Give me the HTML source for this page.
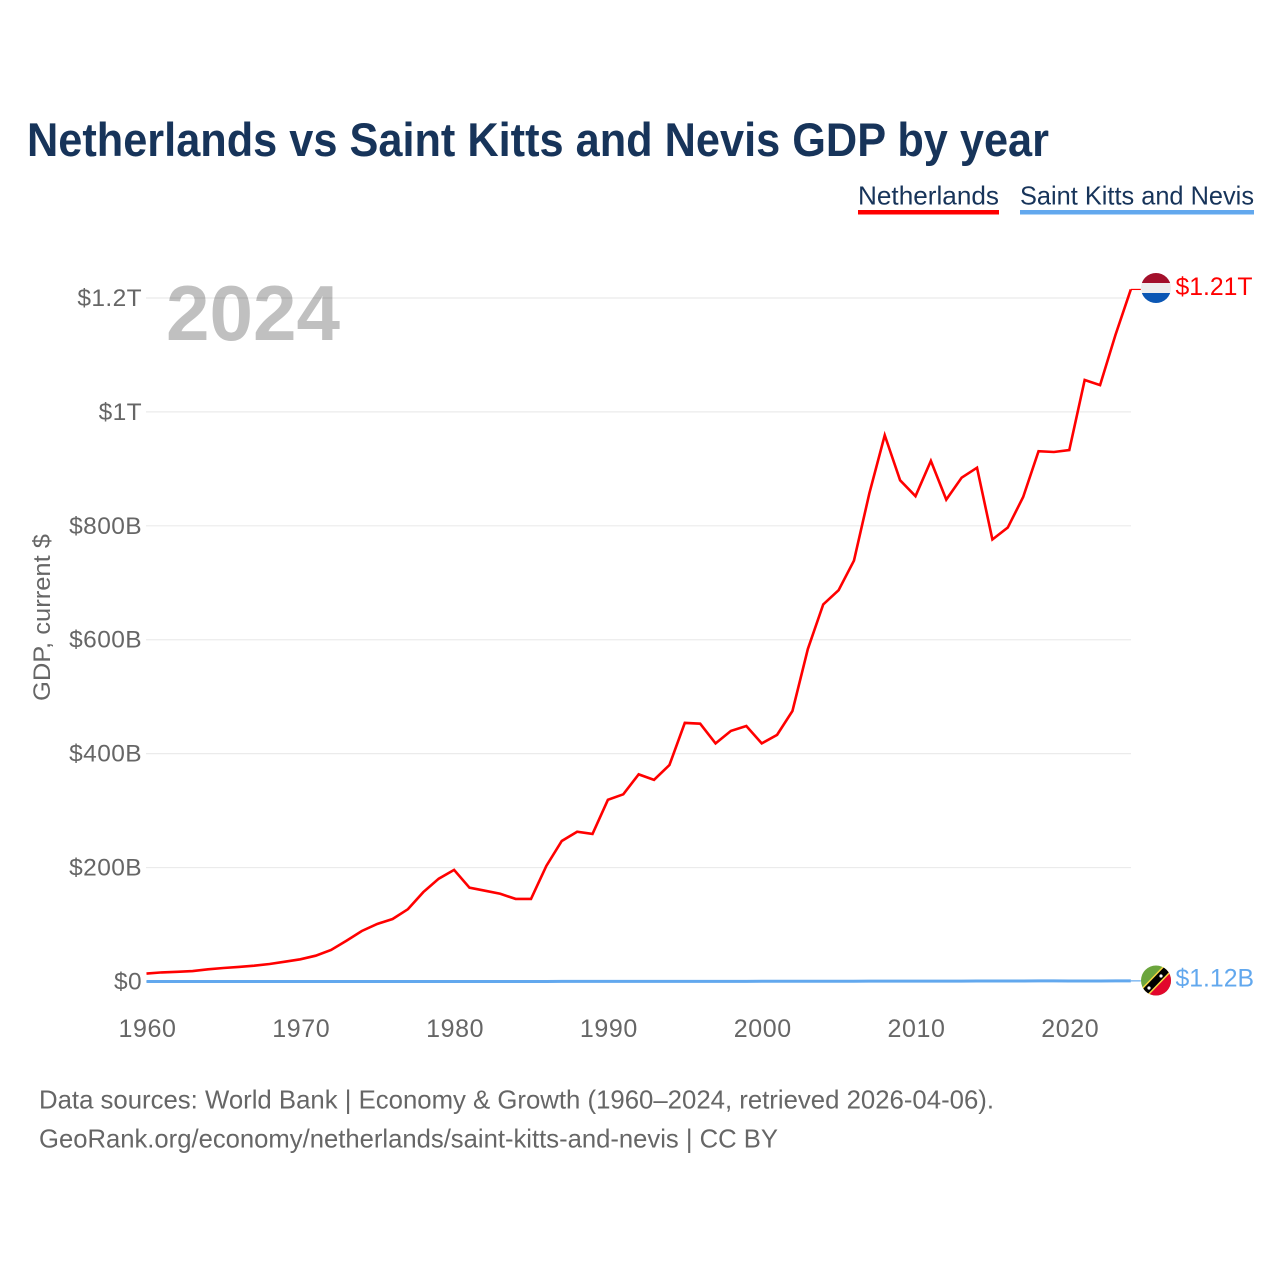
<!DOCTYPE html>
<html lang="en">
<head>
<meta charset="utf-8">
<title>Netherlands vs Saint Kitts and Nevis GDP by year</title>
<style>
html,body{margin:0;padding:0;background:#fff;width:1280px;height:1280px;overflow:hidden}
svg{display:block}
text{font-family:"Liberation Sans",sans-serif}
</style>
</head>
<body>
<svg id="chart" xmlns="http://www.w3.org/2000/svg" width="1280" height="1280" viewBox="0 0 1280 1280">
  <defs>
    <clipPath id="clip-nl"><circle cx="1156" cy="288" r="15"/></clipPath>
    <clipPath id="clip-kn"><circle cx="1156" cy="980.5" r="15"/></clipPath>
  </defs>
  <rect width="1280" height="1280" fill="#fff"/>
  <text x="27" y="156" font-size="47" font-weight="700" fill="#17345a" textLength="1022" lengthAdjust="spacingAndGlyphs">Netherlands vs Saint Kitts and Nevis GDP by year</text>

  <g>
    <g>
      <text x="858" y="204.5" font-size="26" fill="#17345a" textLength="141" lengthAdjust="spacingAndGlyphs">Netherlands</text>
      <rect x="858" y="210" width="141" height="4.5" fill="#ff0000"/>
    </g>
    <g>
      <text x="1020" y="204.5" font-size="26" fill="#17345a" textLength="234" lengthAdjust="spacingAndGlyphs">Saint Kitts and Nevis</text>
      <rect x="1020" y="210" width="234" height="4.5" fill="#62a8ee"/>
    </g>
  </g>

  <text x="166" y="340" font-size="78" font-weight="700" fill="#c0c0c0" textLength="174" lengthAdjust="spacingAndGlyphs">2024</text>
  <g id="grid"></g>
  <g id="y-ticks"></g>
  <g id="x-ticks"></g>
  <text transform="translate(50,701) rotate(-90)" font-size="24" fill="#666" textLength="167" lengthAdjust="spacingAndGlyphs">GDP, current $</text>

  <g id="series"></g>

  <g clip-path="url(#clip-nl)">
    <rect x="1141" y="273" width="30" height="10" fill="#a3102b"/>
    <rect x="1141" y="283" width="30" height="10" fill="#eeeeee"/>
    <rect x="1141" y="293" width="30" height="10" fill="#0b57b4"/>
  </g>
  <g clip-path="url(#clip-kn)">
    <rect x="1141" y="965" width="30" height="31" fill="#6ba53d"/>
    <polygon points="1171,965 1171,996 1141,996" fill="#e2062c"/>
    <line x1="1140" y1="997" x2="1172" y2="964" stroke="#f6d743" stroke-width="10"/>
    <line x1="1140" y1="997" x2="1172" y2="964" stroke="#000" stroke-width="7"/>
    <circle cx="1149" cy="988" r="1.6" fill="#fff"/>
    <circle cx="1161" cy="976" r="1.6" fill="#fff"/>
  </g>
  <text x="1175.5" y="295" font-size="25" fill="#ff0000" textLength="77" lengthAdjust="spacingAndGlyphs">$1.21T</text>
  <text x="1175.5" y="986.5" font-size="25" fill="#62a8ee" textLength="78.5" lengthAdjust="spacingAndGlyphs">$1.12B</text>

  <g>
    <text x="39" y="1108.5" font-size="26" fill="#666" textLength="955" lengthAdjust="spacingAndGlyphs">Data sources: World Bank | Economy &amp; Growth (1960–2024, retrieved 2026-04-06).</text>
    <text x="39" y="1147.5" font-size="26" fill="#666" textLength="739" lengthAdjust="spacingAndGlyphs">GeoRank.org/economy/netherlands/saint-kitts-and-nevis | CC BY</text>
  </g>
</svg>
<script>
const firstYear = 1960;
const netherlands = [14,16,17,18.4,21.4,23.7,25.5,27.8,30.7,34.8,39,45.3,55.3,71.6,88.7,101,109.7,127,157,180.5,196,164.7,159.4,154,145,145,203,246.7,263,259,319,328.6,363.7,354,380,454,452.6,418,440,448.6,418,433,475,583.7,662,687,739,857,959,880,852,914,846,884.5,902,776,797,850.6,931,929.6,933,1056,1047,1135,1215];
const saintKitts = [0.012,0.012,0.013,0.013,0.014,0.014,0.015,0.016,0.017,0.018,0.016,0.019,0.022,0.026,0.03,0.036,0.036,0.042,0.05,0.055,0.062,0.07,0.073,0.074,0.085,0.09,0.1,0.12,0.14,0.16,0.16,0.17,0.18,0.2,0.22,0.23,0.24,0.27,0.29,0.31,0.33,0.36,0.37,0.37,0.41,0.46,0.54,0.57,0.65,0.66,0.69,0.72,0.71,0.76,0.84,0.88,0.93,0.97,1.01,1.05,0.91,0.88,0.97,1.08,1.12];
const yTickValues = [0,200,400,600,800,1000,1200];
const yTickLabels = ["$0","$200B","$400B","$600B","$800B","$1T","$1.2T"];
const xTickValues = [1960,1970,1980,1990,2000,2010,2020];
const xTickLabels = ["1960","1970","1980","1990","2000","2010","2020"];

const NS = "http://www.w3.org/2000/svg";
function xScale(year){ return 146.5 + (year - 1960) * 15.38; }
function yScale(v){ return 981.5 - v * 0.5696; }
function make(tag, props, parent){
  const el = document.createElementNS(NS, tag);
  for (const k in props) el.setAttribute(k, props[k]);
  parent.appendChild(el);
  return el;
}
const gridG = document.getElementById("grid");
const yG = document.getElementById("y-ticks");
const xG = document.getElementById("x-ticks");
const seriesG = document.getElementById("series");

yTickValues.forEach(function(v, i){
  const y = yScale(v);
  const line = make("line", {x1:146, x2:1131, y1:y, y2:y, stroke:"#000", "stroke-opacity":0.08, "stroke-width":1.2}, gridG);
  
  
  const t = make("text", {x:142, y:y+8, "text-anchor":"end", "font-size":24.5, "letter-spacing":0.4, fill:"#666"}, yG);
  
  
  t.textContent = yTickLabels[i];
});
xTickValues.forEach(function(v, i){
  const t = make("text", {x:xScale(v) + 1, y:1037, "text-anchor":"middle", "font-size":25, "letter-spacing":0.6, fill:"#666"}, xG);
  
  
  t.textContent = xTickLabels[i];
});

function pathFor(values){
  return values.map(function(v, i){
    return (i ? "L" : "M") + xScale(firstYear + i).toFixed(2) + " " + yScale(v).toFixed(2);
  }).join(" ");
}
const lastNl = netherlands[netherlands.length - 1];
const lastKn = saintKitts[saintKitts.length - 1];
const lastX = xScale(firstYear + netherlands.length - 1);

const nlConn = make("line", {x1:lastX, x2:lastX + 10, y1:yScale(lastNl), y2:yScale(lastNl), stroke:"#ff0000", "stroke-width":1.2}, seriesG);


const knConn = make("line", {x1:lastX, x2:lastX + 10, y1:yScale(lastKn), y2:yScale(lastKn), stroke:"#62a8ee", "stroke-width":1.2}, seriesG);



const nlLine = make("path", {d:pathFor(netherlands), fill:"none", stroke:"#ff0000", "stroke-width":2.6, "stroke-linejoin":"miter"}, seriesG);


const knLine = make("path", {d:pathFor(saintKitts), fill:"none", stroke:"#62a8ee", "stroke-width":3}, seriesG);


</script>
</body>
</html>
